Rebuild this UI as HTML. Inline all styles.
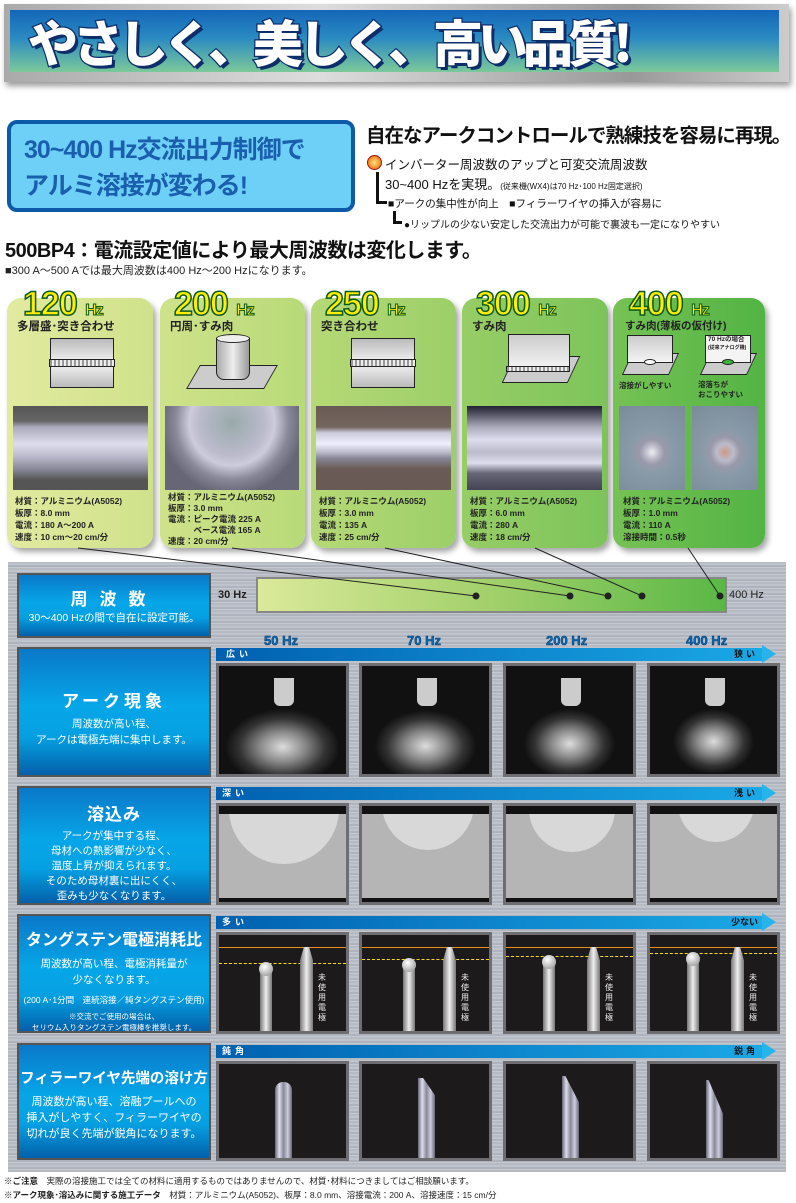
<!DOCTYPE html>
<html><head><meta charset="utf-8"><style>
*{margin:0;padding:0;box-sizing:border-box}
body{width:796px;height:1203px;position:relative;background:#fff;font-family:"Liberation Sans","Noto Sans CJK JP",sans-serif;overflow:hidden;color:#222}
.a{position:absolute}
.card{position:absolute;top:298px;height:250px;border-radius:14px;box-shadow:3px 4px 6px rgba(0,0,0,.35)}
.hz{position:absolute;top:-12px;font-size:34px;font-weight:bold;color:#ffee00;-webkit-text-stroke:1.5px #0b5a1e;letter-spacing:-1px;line-height:36px}
.hz span{font-size:16px;-webkit-text-stroke:1px #0b5a1e}
.ct{position:absolute;left:10px;top:20px;font-size:11.5px;font-weight:bold;color:#222}
.spec{position:absolute;left:8px;top:197px;font-size:8.5px;line-height:12px;font-weight:bold;color:#222;white-space:nowrap}
.ph{position:absolute;top:108px;height:84px}
.lp{position:absolute;left:17px;width:194px;border:2px solid #555;background:linear-gradient(#0a78c8,#06a6e8 45%,#05a0e2 70%,#0460aa);color:#fff;text-align:center}
.lp h3{font-size:17px;font-weight:bold;letter-spacing:1px;white-space:nowrap}
.lp p{font-size:10.5px;line-height:16px;white-space:nowrap}
.bar{position:absolute;left:216px;width:546px;height:13px;background:linear-gradient(90deg,#0060b0,#1aa8e6)}
.bar:after{content:"";position:absolute;right:-14px;top:-3px;border-left:14px solid #26b4ea;border-top:9.5px solid transparent;border-bottom:9.5px solid transparent}
.bl{position:absolute;top:0;font-size:9px;font-weight:bold;color:#fff;line-height:13px;letter-spacing:4px}
.br{position:absolute;top:0;right:4px;font-size:9px;font-weight:bold;color:#111;line-height:13px;letter-spacing:3px}
.im{position:absolute;width:133px;border:3px solid #6e6e72;background:#111}
.hzl{position:absolute;top:633px;font-size:13px;font-weight:bold;color:#0b6cb8;-webkit-text-stroke:.5px #063a6a}
</style></head><body>
<!-- header -->
<div class="a" style="left:4px;top:4px;width:785px;height:78px;background:linear-gradient(90deg,#aaa,#ddd 40%,#999 80%,#ccc);box-shadow:2px 4px 6px rgba(0,0,0,.4)"></div>
<div class="a" style="left:10px;top:10px;width:769px;height:62px;background:linear-gradient(#1466b8,#2a8ac2 45%,#7cc99a)"></div>
<div class="a" style="left:28px;top:10px;font-family:'Noto Sans CJK JP',sans-serif;font-size:50px;font-weight:900;color:#fff;-webkit-text-stroke:2.5px #0e2e6a;paint-order:stroke fill;letter-spacing:-5px;line-height:62px;text-shadow:3px 3px 0 #0e2e6a">やさしく、美しく、高い品質!</div>

<div class="a" style="left:7px;top:120px;width:348px;height:92px;border:4px solid #0d5aa8;border-radius:10px;background:#6ed0f6"></div>
<div class="a" style="left:24px;top:132px;font-size:25px;color:#1a5fae;font-weight:bold;line-height:36px;letter-spacing:-1px">30~400 Hz交流出力制御で<br>アルミ溶接が変わる!</div>

<div class="a" style="left:366px;top:119px;font-size:19.5px;font-weight:bold;color:#111;letter-spacing:-1px">自在なアークコントロールで熟練技を容易に再現。</div>
<div class="a" style="left:367px;top:155px;width:15px;height:15px;border-radius:50%;background:radial-gradient(#ffe680,#f08020 70%,#c02010);border:1px solid #a01010"></div>
<div class="a" style="left:385px;top:154px;font-size:12.5px;color:#111">インバーター周波数のアップと可変交流周波数</div>
<div class="a" style="left:385px;top:174px;font-size:13px;color:#111">30~400 Hzを実現。<span style="font-size:8px">(従来機(WX4)は70 Hz･100 Hz固定選択)</span></div>
<div class="a" style="left:376px;top:172px;width:11px;height:32px;border-left:3px solid #111;border-bottom:3px solid #111"></div>
<div class="a" style="left:388px;top:196px;font-size:10.5px;color:#111">■アークの集中性が向上　■フィラーワイヤの挿入が容易に</div>
<div class="a" style="left:393px;top:211px;width:9px;height:13px;border-left:3px solid #111;border-bottom:3px solid #111"></div>
<div class="a" style="left:404px;top:216px;font-size:10px;color:#111">●リップルの少ない安定した交流出力が可能で裏波も一定になりやすい</div>

<div class="a" style="left:5px;top:234px;font-size:20px;font-weight:bold;color:#111;letter-spacing:-.5px">500BP4：電流設定値により最大周波数は変化します。</div>
<div class="a" style="left:5px;top:262px;font-size:11px;color:#222">■300 A～500 Aでは最大周波数は400 Hz～200 Hzになります。</div>

<!-- cards -->
<div class="card" style="left:7px;width:146px;background:linear-gradient(90deg,#e2eaa0,#cfe28a)"></div>
<div class="card" style="left:160px;width:145px;background:linear-gradient(90deg,#cfe28a,#b8da78)"></div>
<div class="card" style="left:311px;width:145px;background:linear-gradient(90deg,#b6d976,#9ccf68)"></div>
<div class="card" style="left:462px;width:146px;background:linear-gradient(90deg,#98cd66,#7cc45a)"></div>
<div class="card" style="left:613px;width:152px;background:linear-gradient(90deg,#76c254,#52b444)"></div>

<div class="a" style="left:7px;top:298px;width:146px"><div class="hz" style="left:16px">120 <span>Hz</span></div><div class="ct">多層盛･突き合わせ</div>
<div class="a" style="left:43px;top:40px;width:64px;height:50px;border:1.5px solid #222;background:linear-gradient(#bbb,#f4f4f4 50%,#bbb)"></div><div class="a" style="left:42px;top:61px;width:66px;height:8px;border:1px solid #222;background:repeating-linear-gradient(90deg,#999 0 2px,#eee 2px 4px)"></div>
<div class="ph" style="left:6px;width:135px;background:linear-gradient(#555 0,#666 18%,#aab 25%,#dde 45%,#bbc 60%,#889 75%,#555 88%)"></div>
<div class="spec">材質：アルミニウム(A5052)<br>板厚：8.0 mm<br>電流：180 A～200 A<br>速度：10 cm～20 cm/分</div></div>

<div class="a" style="left:160px;top:298px;width:145px"><div class="hz" style="left:14px">200 <span>Hz</span></div><div class="ct">円周･すみ肉</div>
<div class="a" style="left:33px;top:67px;width:78px;height:24px;background:#ccc;border:1px solid #222;transform:skewX(-30deg)"></div><div class="a" style="left:56px;top:40px;width:34px;height:42px;border:1.5px solid #222;border-radius:0 0 8px 8px;background:linear-gradient(90deg,#aaa,#eee,#999)"></div><div class="a" style="left:56px;top:36px;width:34px;height:9px;border:1.5px solid #222;border-radius:50%;background:#eee"></div>
<div class="ph" style="left:5px;width:134px;background:radial-gradient(ellipse at 50% 20%,#9aa 0,#bbc 35%,#ccd 45%,#889 60%,#667 75%)"></div>
<div class="spec" style="top:194px;line-height:11px">材質：アルミニウム(A5052)<br>板厚：3.0 mm<br>電流：ピーク電流 225 A<br>　　　ベース電流 165 A<br>速度：20 cm/分</div></div>

<div class="a" style="left:311px;top:298px;width:145px"><div class="hz" style="left:14px">250 <span>Hz</span></div><div class="ct">突き合わせ</div>
<div class="a" style="left:40px;top:40px;width:64px;height:50px;border:1.5px solid #222;background:linear-gradient(#bbb,#f4f4f4 50%,#bbb)"></div><div class="a" style="left:39px;top:61px;width:66px;height:8px;border:1px solid #222;background:repeating-linear-gradient(90deg,#999 0 2px,#eee 2px 4px)"></div>
<div class="ph" style="left:5px;width:135px;background:linear-gradient(#6a5a55 0,#75655f 25%,#ccd 32%,#eef 45%,#bbc 55%,#889 62%,#6a5a55 75%)"></div>
<div class="spec">材質：アルミニウム(A5052)<br>板厚：3.0 mm<br>電流：135 A<br>速度：25 cm/分</div></div>

<div class="a" style="left:462px;top:298px;width:146px"><div class="hz" style="left:14px">300 <span>Hz</span></div><div class="ct">すみ肉</div>
<div class="a" style="left:46px;top:58px;width:66px;height:27px;background:#ccc;border:1px solid #222;transform:skewX(-25deg)"></div><div class="a" style="left:46px;top:36px;width:62px;height:36px;border:1.5px solid #222;background:linear-gradient(#ccc,#f4f4f4)"></div><div class="a" style="left:44px;top:68px;width:64px;height:6px;border:1px solid #222;background:repeating-linear-gradient(90deg,#999 0 2px,#eee 2px 4px)"></div>
<div class="ph" style="left:5px;width:135px;background:linear-gradient(#223 0,#556 10%,#aab 25%,#dde 40%,#bbc 55%,#dde 68%,#667 80%,#445)"></div>
<div class="spec">材質：アルミニウム(A5052)<br>板厚：6.0 mm<br>電流：280 A<br>速度：18 cm/分</div></div>

<div class="a" style="left:613px;top:298px;width:152px"><div class="hz" style="left:16px">400 <span>Hz</span></div><div class="ct" style="left:12px;font-size:10.5px">すみ肉(薄板の仮付け)</div>
<div class="a" style="left:14px;top:55px;width:47px;height:22px;background:#ccc;border:1px solid #222;transform:skewX(-25deg)"></div><div class="a" style="left:14px;top:37px;width:46px;height:28px;border:1px solid #222;background:linear-gradient(#ccc,#f4f4f4)"></div><div class="a" style="left:31px;top:61px;width:12px;height:6px;border:1px solid #222;border-radius:50%;background:#fff"></div>
<div class="a" style="left:92px;top:55px;width:47px;height:22px;background:#ccc;border:1px solid #222;transform:skewX(-25deg)"></div><div class="a" style="left:92px;top:37px;width:46px;height:28px;border:1px solid #222;background:#f4f4f4;font-size:6.5px;font-weight:bold;line-height:8px;padding-left:2px">70 Hzの場合<br><span style="font-size:5px">(従来アナログ機)</span></div><div class="a" style="left:109px;top:61px;width:12px;height:6px;border:1px solid #222;border-radius:50%;background:#3cb43c"></div>
<div class="a" style="left:6px;top:82px;font-size:7.5px;font-weight:bold">溶接がしやすい</div><div class="a" style="left:85px;top:82px;font-size:7.5px;font-weight:bold;line-height:10px">溶落ちが<br>おこりやすい</div>
<div class="ph" style="left:6px;width:66px;background:radial-gradient(circle at 50% 55%,#eee 0,#bbc 12%,#99a 22%,#889aa8 40%,#7a8a98)"></div>
<div class="ph" style="left:79px;width:66px;background:radial-gradient(circle at 50% 55%,#c98 0,#bbc 15%,#99a 26%,#889aa8 42%,#7a8a98)"></div>
<div class="spec" style="left:10px">材質：アルミニウム(A5052)<br>板厚：1.0 mm<br>電流：110 A<br>溶接時間：0.5秒</div></div>

<!-- gray section -->
<div class="a" style="left:8px;top:562px;width:778px;height:610px;background:repeating-linear-gradient(0deg,#b5bac3 0 2px,#c4c8d0 2px 3px,#aeb3bd 3px 5px,#bfc3cb 5px 7px)"></div>
<div class="a" style="left:256px;top:577px;width:471px;height:36px;border:2px solid #888;background:linear-gradient(90deg,#dbe99a,#a2d06a 50%,#5ab846)"></div>
<div class="a" style="left:218px;top:589px;font-size:11px;font-weight:bold;color:#222">30 Hz</div>
<div class="a" style="left:729px;top:589px;font-size:11px;color:#222">400 Hz</div>
<svg class="a" style="left:0;top:0" width="796" height="620">
<g stroke="#222" stroke-width="1" fill="none"><line x1="78" y1="548" x2="476" y2="596"/><line x1="232" y1="548" x2="570" y2="596"/><line x1="385" y1="548" x2="608" y2="596"/><line x1="535" y1="548" x2="642" y2="596"/><line x1="688" y1="548" x2="720" y2="596"/></g>
<g fill="#222"><circle cx="476" cy="596" r="3.5"/><circle cx="570" cy="596" r="3.5"/><circle cx="608" cy="596" r="3.5"/><circle cx="642" cy="596" r="3.5"/><circle cx="720" cy="596" r="3.5"/></g></svg>

<div class="lp" style="top:573px;height:65px;padding-top:10px"><h3 style="letter-spacing:12px">周波数</h3><p>30～400 Hzの間で自在に設定可能。</p></div>
<div class="lp" style="top:647px;height:130px;padding-top:38px"><h3 style="letter-spacing:4px">アーク現象</h3><p style="margin-top:4px">周波数が高い程、<br>アークは電極先端に集中します。</p></div>
<div class="lp" style="top:786px;height:119px;padding-top:12px"><h3>溶込み</h3><p style="margin-top:4px;line-height:15px">アークが集中する程、<br>母材への熱影響が少なく、<br>温度上昇が抑えられます。<br>そのため母材裏に出にくく、<br>歪みも少なくなります。</p></div>
<div class="lp" style="top:914px;height:119px;padding-top:10px"><h3 style="letter-spacing:0;font-size:16px">タングステン電極消耗比</h3><p style="margin-top:6px">周波数が高い程、電極消耗量が<br>少なくなります。</p><p style="font-size:8.5px;margin-top:4px">(200 A･1分間　連続溶接／純タングステン使用)</p><p style="font-size:7.5px;line-height:11px;margin-top:3px">※交流でご使用の場合は、<br>セリウム入りタングステン電極棒を推奨します。</p></div>
<div class="lp" style="top:1043px;height:117px;padding-top:22px"><h3 style="letter-spacing:0;font-size:14.5px">フィラーワイヤ先端の溶け方</h3><p style="font-size:11px;margin-top:6px">周波数が高い程、溶融プールへの<br>挿入がしやすく、フィラーワイヤの<br>切れが良く先端が鋭角になります。</p></div>

<div class="hzl" style="left:264px">50 Hz</div><div class="hzl" style="left:407px">70 Hz</div><div class="hzl" style="left:546px">200 Hz</div><div class="hzl" style="left:686px">400 Hz</div>

<div class="bar" style="top:648px"><span class="bl" style="left:10px">広い</span><span class="br">狭い</span></div>
<div class="bar" style="top:787px"><span class="bl" style="left:6px">深い</span><span class="br">浅い</span></div>
<div class="bar" style="top:916px"><span class="bl" style="left:6px">多い</span><span class="br" style="letter-spacing:0">少ない</span></div>
<div class="bar" style="top:1045px"><span class="bl" style="left:6px">鈍角</span><span class="br">鋭角</span></div>

<!-- arc images -->
<div class="im" style="left:216px;top:663px;height:114px;background:radial-gradient(ellipse 45% 35% at 50% 75%,#ddd,#888 40%,#333 75%,#111),#111"><div class="a" style="left:55px;top:12px;width:20px;height:28px;background:#ccc;border-radius:0 0 6px 6px"></div></div>
<div class="im" style="left:359px;top:663px;height:114px;background:radial-gradient(ellipse 40% 33% at 50% 74%,#ddd,#888 40%,#333 75%,#111),#111"><div class="a" style="left:55px;top:12px;width:20px;height:28px;background:#ccc;border-radius:0 0 6px 6px"></div></div>
<div class="im" style="left:503px;top:663px;height:114px;background:radial-gradient(ellipse 36% 32% at 50% 72%,#ddd,#888 40%,#333 75%,#111),#111"><div class="a" style="left:55px;top:12px;width:20px;height:28px;background:#ccc;border-radius:0 0 6px 6px"></div></div>
<div class="im" style="left:647px;top:663px;height:114px;background:radial-gradient(ellipse 32% 30% at 50% 70%,#ddd,#888 40%,#333 75%,#111),#111"><div class="a" style="left:55px;top:12px;width:20px;height:28px;background:#ccc;border-radius:0 0 6px 6px"></div></div>

<!-- penetration -->
<div class="im" style="left:216px;top:803px;height:102px;background:linear-gradient(#111 0 8px,#b5b5b5 8px 92px,#111 92px)"><div class="a" style="left:10px;top:-52px;width:110px;height:110px;border-radius:50%;background:#d8d8d8;clip-path:inset(60px 0 0 0)"></div></div>
<div class="im" style="left:359px;top:803px;height:102px;background:linear-gradient(#111 0 8px,#b5b5b5 8px 92px,#111 92px)"><div class="a" style="left:20px;top:-48px;width:92px;height:92px;border-radius:50%;background:#d8d8d8;clip-path:inset(56px 0 0 0)"></div></div>
<div class="im" style="left:503px;top:803px;height:102px;background:linear-gradient(#111 0 8px,#b5b5b5 8px 92px,#111 92px)"><div class="a" style="left:23px;top:-40px;width:86px;height:86px;border-radius:50%;background:#d8d8d8;clip-path:inset(48px 0 0 0)"></div></div>
<div class="im" style="left:647px;top:803px;height:102px;background:linear-gradient(#111 0 8px,#b5b5b5 8px 92px,#111 92px)"><div class="a" style="left:28px;top:-40px;width:76px;height:76px;border-radius:50%;background:#d8d8d8;clip-path:inset(48px 0 0 0)"></div></div>

<!-- tungsten -->
<div class="im" style="left:216px;top:932px;height:102px;background:#1c1a1a;overflow:hidden"><div class="a" style="left:0;top:12px;width:127px;border-top:1px solid #e89020"></div><div class="a" style="left:0;top:28px;width:127px;border-top:1px dashed #ffe000"></div><div class="a" style="left:41px;top:32px;width:12px;height:70px;background:linear-gradient(90deg,#777,#eee,#777)"></div><div class="a" style="left:40px;top:27px;width:14px;height:14px;border-radius:50%;background:radial-gradient(circle at 40% 35%,#fff,#888)"></div><div class="a" style="left:81px;top:12px;width:13px;height:90px;background:linear-gradient(90deg,#777,#eee,#777);clip-path:polygon(30% 0,70% 0,100% 15%,100% 100%,0 100%,0 15%)"></div><div class="a" style="left:99px;top:38px;font-size:8px;color:#eee;width:9px;line-height:10px">未使用電極</div></div>
<div class="im" style="left:359px;top:932px;height:102px;background:#1c1a1a;overflow:hidden"><div class="a" style="left:0;top:12px;width:127px;border-top:1px solid #e89020"></div><div class="a" style="left:0;top:24px;width:127px;border-top:1px dashed #ffe000"></div><div class="a" style="left:41px;top:28px;width:12px;height:74px;background:linear-gradient(90deg,#777,#eee,#777)"></div><div class="a" style="left:40px;top:23px;width:14px;height:14px;border-radius:50%;background:radial-gradient(circle at 40% 35%,#fff,#888)"></div><div class="a" style="left:81px;top:12px;width:13px;height:90px;background:linear-gradient(90deg,#777,#eee,#777);clip-path:polygon(30% 0,70% 0,100% 15%,100% 100%,0 100%,0 15%)"></div><div class="a" style="left:99px;top:38px;font-size:8px;color:#eee;width:9px;line-height:10px">未使用電極</div></div>
<div class="im" style="left:503px;top:932px;height:102px;background:#1c1a1a;overflow:hidden"><div class="a" style="left:0;top:12px;width:127px;border-top:1px solid #e89020"></div><div class="a" style="left:0;top:21px;width:127px;border-top:1px dashed #ffe000"></div><div class="a" style="left:37px;top:25px;width:12px;height:77px;background:linear-gradient(90deg,#777,#eee,#777)"></div><div class="a" style="left:36px;top:20px;width:14px;height:14px;border-radius:50%;background:radial-gradient(circle at 40% 35%,#fff,#888)"></div><div class="a" style="left:81px;top:12px;width:13px;height:90px;background:linear-gradient(90deg,#777,#eee,#777);clip-path:polygon(30% 0,70% 0,100% 15%,100% 100%,0 100%,0 15%)"></div><div class="a" style="left:99px;top:38px;font-size:8px;color:#eee;width:9px;line-height:10px">未使用電極</div></div>
<div class="im" style="left:647px;top:932px;height:102px;background:#1c1a1a;overflow:hidden"><div class="a" style="left:0;top:12px;width:127px;border-top:1px solid #e89020"></div><div class="a" style="left:0;top:18px;width:127px;border-top:1px dashed #ffe000"></div><div class="a" style="left:37px;top:22px;width:12px;height:80px;background:linear-gradient(90deg,#777,#eee,#777)"></div><div class="a" style="left:36px;top:17px;width:14px;height:14px;border-radius:50%;background:radial-gradient(circle at 40% 35%,#fff,#888)"></div><div class="a" style="left:81px;top:12px;width:13px;height:90px;background:linear-gradient(90deg,#777,#eee,#777);clip-path:polygon(30% 0,70% 0,100% 15%,100% 100%,0 100%,0 15%)"></div><div class="a" style="left:99px;top:38px;font-size:8px;color:#eee;width:9px;line-height:10px">未使用電極</div></div>

<!-- filler -->
<div class="im" style="left:216px;top:1061px;height:100px;background:#1c1a1a;overflow:hidden"><div class="a" style="left:56px;top:18px;width:17px;height:82px;border-radius:8px 8px 0 0;background:linear-gradient(90deg,#667,#dde,#889,#ccd,#667)"></div></div>
<div class="im" style="left:359px;top:1061px;height:100px;background:#1c1a1a;overflow:hidden"><div class="a" style="left:56px;top:14px;width:17px;height:86px;background:linear-gradient(90deg,#667,#dde,#889,#ccd,#667);clip-path:polygon(0 0,30% 0,100% 20%,100% 100%,0 100%)"></div></div>
<div class="im" style="left:503px;top:1061px;height:100px;background:#1c1a1a;overflow:hidden"><div class="a" style="left:56px;top:12px;width:17px;height:88px;background:linear-gradient(90deg,#667,#dde,#889,#ccd,#667);clip-path:polygon(0 0,20% 0,100% 30%,100% 100%,0 100%)"></div></div>
<div class="im" style="left:647px;top:1061px;height:100px;background:#1c1a1a;overflow:hidden"><div class="a" style="left:56px;top:16px;width:17px;height:84px;background:linear-gradient(90deg,#667,#dde,#889,#ccd,#667);clip-path:polygon(0 0,15% 0,100% 40%,100% 100%,0 100%)"></div></div>

<div class="a" style="left:4px;top:1175px;font-size:8.5px;color:#222"><b>※ご注意</b>　実際の溶接施工では全ての材料に適用するものではありませんので、材質･材料につきましてはご相談願います。</div>
<div class="a" style="left:4px;top:1189px;font-size:8.5px;color:#222"><b>※アーク現象･溶込みに関する施工データ</b>　材質：アルミニウム(A5052)、板厚：8.0 mm、溶接電流：200 A、溶接速度：15 cm/分</div>
</body></html>
